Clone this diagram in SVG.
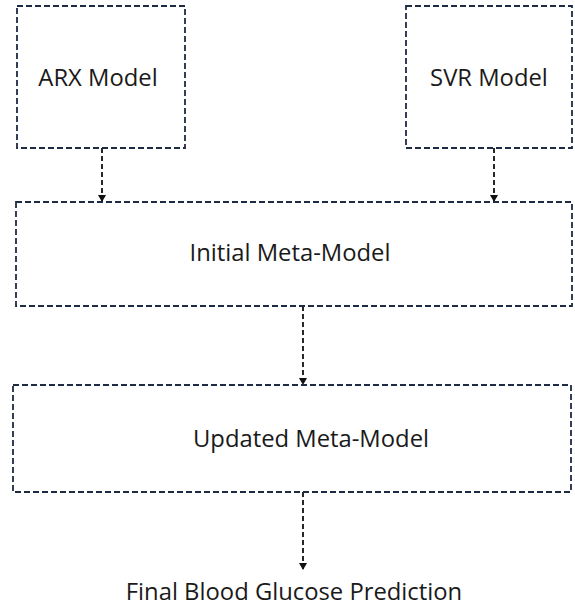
<svg xmlns="http://www.w3.org/2000/svg" width="575" height="610" viewBox="0 0 575 610">
  <style>
    .box { fill: #ffffff; stroke: #1e2b45; stroke-width: 1.8; stroke-dasharray: 6 3; }
    .lbl { font-family: "Open Sans", "Liberation Sans", sans-serif; font-size: 23.8px; fill: #1a1a1a; text-anchor: middle; }
    .conn { fill: none; stroke: #111111; stroke-width: 1.8; stroke-dasharray: 5 3; }
  </style>
  <defs>
    <marker id="arrow" markerWidth="8" markerHeight="8" refX="6" refY="4" orient="auto" markerUnits="userSpaceOnUse">
      <path d="M0,0 L7,4 L0,8 Z" fill="#111111"/>
    </marker>
  </defs>
  <rect width="575" height="610" fill="#ffffff"/>

  <g id="connectors">
    <line class="conn" x1="102" y1="148" x2="102" y2="201" marker-end="url(#arrow)"/>
    <line class="conn" x1="494" y1="148" x2="494" y2="201" marker-end="url(#arrow)"/>
    <line class="conn" x1="303" y1="306" x2="303" y2="384" marker-end="url(#arrow)"/>
    <line class="conn" x1="303" y1="492" x2="303" y2="569" marker-end="url(#arrow)"/>
  </g>

  <g id="arx">
    <rect class="box" x="17" y="6" width="168" height="142"/>
    <text class="lbl" x="98" y="86">ARX Model</text>
  </g>

  <g id="svr">
    <rect class="box" x="406" y="6" width="166" height="142"/>
    <text class="lbl" x="489" y="86">SVR Model</text>
  </g>

  <g id="initial-meta">
    <rect class="box" x="16" y="202" width="556" height="104"/>
    <text class="lbl" x="290" y="261">Initial Meta-Model</text>
  </g>

  <g id="updated-meta">
    <rect class="box" x="13" y="385" width="558" height="107"/>
    <text class="lbl" x="311" y="447">Updated Meta-Model</text>
  </g>

  <g id="final">
    <text class="lbl" x="294" y="600">Final Blood Glucose Prediction</text>
  </g>
</svg>
